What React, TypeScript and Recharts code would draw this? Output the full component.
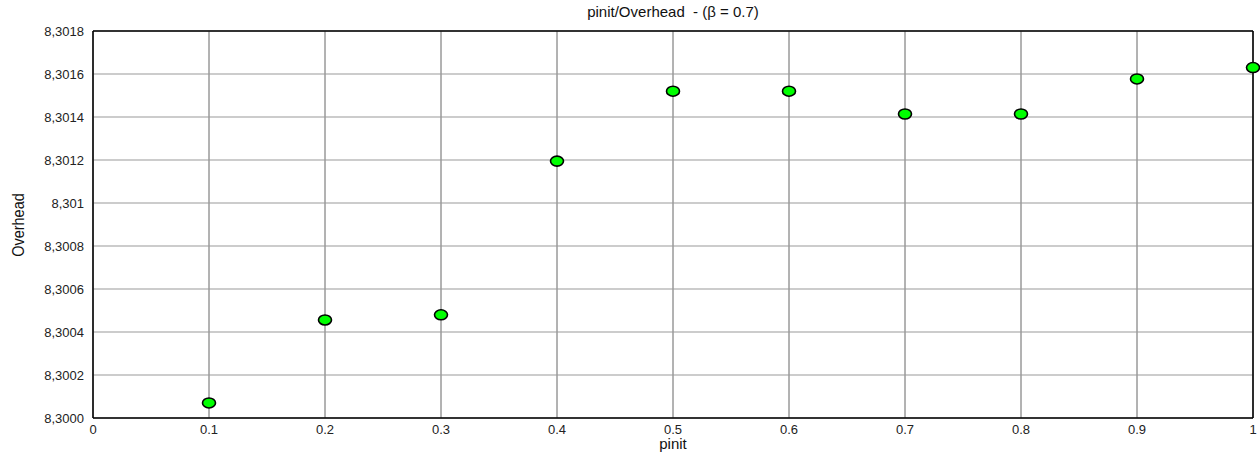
import { ScatterChart, Scatter, XAxis, YAxis, CartesianGrid, ReferenceLine } from "recharts";

const PINIT = [0.1, 0.2, 0.3, 0.4, 0.5, 0.6, 0.7, 0.8, 0.9, 1.0];
const OVERHEAD = [8.30007, 8.300456, 8.30048, 8.301195, 8.30152, 8.30152, 8.301414, 8.301414, 8.301577, 8.30163];
const X_TICKS = [0, 0.1, 0.2, 0.3, 0.4, 0.5, 0.6, 0.7, 0.8, 0.9, 1];
const X_LABELS = ["0", "0.1", "0.2", "0.3", "0.4", "0.5", "0.6", "0.7", "0.8", "0.9", "1"];
const Y_TICKS = [8.3, 8.3002, 8.3004, 8.3006, 8.3008, 8.301, 8.3012, 8.3014, 8.3016, 8.3018];
const Y_LABELS = ["8,3000", "8,3002", "8,3004", "8,3006", "8,3008", "8,301", "8,3012", "8,3014", "8,3016", "8,3018"];

const data = PINIT.map((p, i) => ({ pinit: p, overhead: OVERHEAD[i] }));

const FONT = "'Liberation Sans', Arial, sans-serif";

const Dot = (props: any) => {
  const { cx, cy } = props;
  return <ellipse cx={cx} cy={cy} rx={6.5} ry={5} fill="#00ff00" stroke="#000" strokeWidth={1.6} />;
};

export default function App() {
  return (
    <div style={{ position: "absolute", left: 0, top: 0, width: 1260, height: 456, background: "#fff", fontFamily: FONT }}>
      <div style={{ position: "absolute", left: 93, width: 1160, top: 3, textAlign: "center", fontSize: 15, color: "#111" }}>
        pinit/Overhead&nbsp;&nbsp;- (β = 0.7)
      </div>
      <div
        style={{
          position: "absolute",
          left: 19,
          top: 225,
          transform: "translate(-50%, -50%) rotate(-90deg) scaleX(0.85)",
          fontSize: 17,
          color: "#111",
          whiteSpace: "nowrap",
        }}
      >
        Overhead
      </div>
      <div style={{ position: "absolute", left: 93, width: 1160, top: 435, textAlign: "center", fontSize: 15, color: "#111" }}>
        pinit
      </div>
      <ScatterChart width={1260} height={456} margin={{ top: 31, right: 7, left: 0, bottom: 0 }}>
        <CartesianGrid horizontal={false} stroke="#666" strokeWidth={1} />
        <CartesianGrid vertical={false} stroke="#999" strokeWidth={1} />
        <XAxis
          type="number"
          dataKey="pinit"
          domain={[0, 1]}
          ticks={X_TICKS}
          tickFormatter={(v: number) => X_LABELS[X_TICKS.indexOf(v)] ?? String(v)}
          height={38}
          axisLine={{ stroke: "#000", strokeWidth: 1.5 }}
          tickLine={false}
          tick={{ fill: "#222", fontSize: 13, fontFamily: FONT }}
          tickMargin={1}
          interval={0}
        />
        <YAxis
          type="number"
          dataKey="overhead"
          domain={[8.3, 8.3018]}
          ticks={Y_TICKS}
          tickFormatter={(v: number) => {
            const i = Y_TICKS.findIndex((t) => Math.abs(t - v) < 1e-7);
            return i >= 0 ? Y_LABELS[i] : String(v);
          }}
          width={93}
          allowDataOverflow
          axisLine={{ stroke: "#000", strokeWidth: 1.5 }}
          tickLine={false}
          tick={{ fill: "#222", fontSize: 13, fontFamily: FONT }}
          tickMargin={3}
          interval={0}
        />
        <ReferenceLine y={8.3018} stroke="#000" strokeWidth={1.5} />
        <ReferenceLine x={1} stroke="#000" strokeWidth={1.5} />
        <Scatter data={data} shape={<Dot />} isAnimationActive={false} />
      </ScatterChart>
    </div>
  );
}
